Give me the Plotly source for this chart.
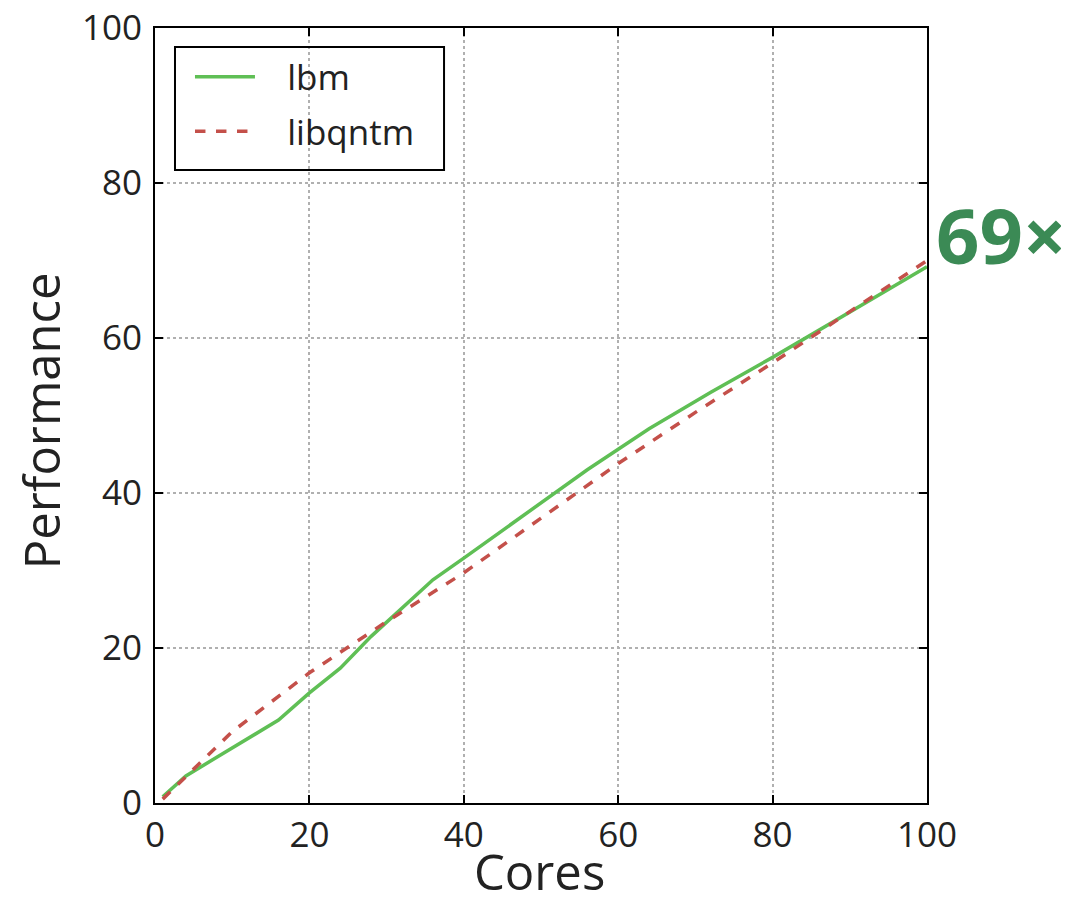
import plotly.graph_objects as go

cores_lbm = [1, 4, 8, 12, 16, 20, 24, 28, 32, 36, 40, 48, 56, 64, 72, 80, 88, 96, 100]
perf_lbm = [0.8, 3.5, 5.9, 8.3, 10.7, 14.2, 17.4, 21.5, 25.2, 28.8, 31.6, 37.3, 43.0, 48.3, 53.0, 57.5, 62.2, 66.8, 69.2]

cores_libq = [1, 10, 20, 30, 40, 50, 60, 70, 80, 90, 100]
perf_libq = [0.5, 9.2, 16.8, 23.4, 29.7, 36.8, 43.8, 50.4, 56.8, 63.4, 70.0]

x_title = "Cores"
y_title = "Performance"
annotation_text = "69×"

FONT = "Open Sans"
NB = "\u00a0"

fig = go.Figure()
fig.add_trace(go.Scatter(x=cores_lbm, y=perf_lbm, mode="lines", name=NB * 3 + "lbm",
                         legendgroup="a",
                         line=dict(color="#5fbf55", width=3.5)))
fig.add_trace(go.Scatter(x=cores_libq, y=perf_libq, mode="lines", name=NB * 3 + "libqntm",
                         legendgroup="b",
                         line=dict(color="#c4504a", width=3.5, dash="dash")))

axis_common = dict(
    showline=True, linecolor="black", linewidth=2, mirror="ticks",
    ticks="inside", ticklen=8, tickwidth=1.5, tickcolor="black",
    showgrid=True, gridcolor="#b0b0b0", griddash="dot", gridwidth=1.5,
    zeroline=False, ticklabeloverflow="allow", automargin=False,
    tickfont=dict(family=FONT, size=35, color="#222222"),
)

fig.update_layout(
    width=1061, height=898,
    margin=dict(l=147, r=142, t=20, b=103),
    paper_bgcolor="white", plot_bgcolor="white",
    xaxis=dict(range=[0, 100], dtick=20, **axis_common),
    yaxis=dict(range=[0, 100], dtick=20, ticklabelstandoff=4, **axis_common),
    legend=dict(x=0.0453, y=0.975, xanchor="left", yanchor="top",
                borderwidth=0, bgcolor="rgba(0,0,0,0)",
                font=dict(family=FONT, size=35, color="#222222"),
                itemwidth=60, tracegroupgap=6, traceorder="grouped"),
    showlegend=True,
    shapes=[dict(type="rect", xref="paper", yref="paper", x0=0.0259, x1=0.3744, y0=0.8168, y1=0.9755,
                 line=dict(color="black", width=2), fillcolor="rgba(0,0,0,0)", layer="above")],
    annotations=[
        dict(x=1.0, y=73.4, xref="paper", yref="y", xanchor="left", yanchor="middle",
             text="<b>" + annotation_text + "</b>", showarrow=False, xshift=7,
             font=dict(family=FONT, size=76, color="#3b8a55")),
        dict(x=0.4987, y=-0.1316, xref="paper", yref="paper", xanchor="center", yanchor="bottom",
             text=x_title, showarrow=False, borderpad=0,
             font=dict(family=FONT, size=49, color="#222222")),
        dict(x=-0.1477, y=0.494, xref="paper", yref="paper", xanchor="center", yanchor="middle",
             text=y_title, showarrow=False, textangle=-90,
             font=dict(family=FONT, size=49, color="#222222")),
    ],
)

fig.write_html("out.html")
